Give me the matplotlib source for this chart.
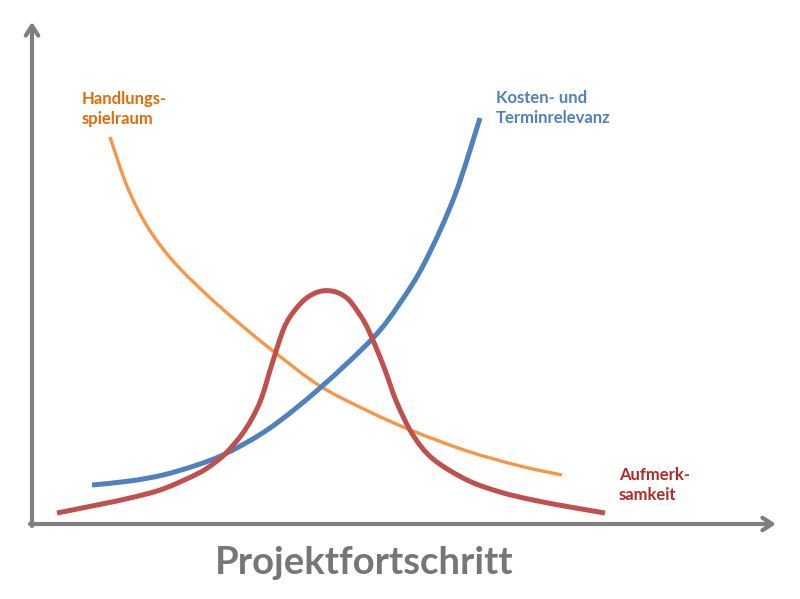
import matplotlib
matplotlib.use('Agg')
import matplotlib.pyplot as plt
from matplotlib.path import Path
from matplotlib.patches import PathPatch
import numpy as np

# Curve points (pixel-like units, y grows downward)
spielraum_x = [110, 127, 147, 173, 207, 240, 273, 320, 370, 413, 467, 520, 562]
spielraum_y = [137, 186, 226, 261, 295, 324, 351, 386, 412, 431, 451, 466, 475]

kosten_x = [92, 130, 163, 197, 227, 270, 320, 373, 400, 425, 455, 480]
kosten_y = [485, 481, 475, 465, 453, 428, 388, 338, 303, 262, 195, 118]

aufmerk_x = [57, 97, 130, 163, 197, 213, 227, 245, 260, 272, 284, 295, 308, 322, 336, 348, 358, 366, 375, 385, 397, 413, 433, 467, 500, 533, 570, 605]
aufmerk_y = [513, 505, 498, 489, 474, 464, 452, 430, 402, 364, 328, 310, 297, 291, 292, 299, 312, 325, 345, 370, 403, 435, 459, 480, 492, 500, 507, 513]

labels = [['Handlungs-', 'spielraum'], ['Kosten- und', 'Terminrelevanz'], ['Aufmerk-', 'samkeit']]
x_title = 'Projektfortschritt'

plt.rcParams['font.family'] = ['Lato', 'DejaVu Sans']


def smooth_path(xs, ys):
    # Catmull-Rom through the read points, drawn as cubic Bezier segments
    p = np.column_stack([xs, ys]).astype(float)
    verts = [p[0]]
    codes = [Path.MOVETO]
    for i in range(len(p) - 1):
        p0 = p[max(i - 1, 0)]
        p1 = p[i]
        p2 = p[i + 1]
        p3 = p[min(i + 2, len(p) - 1)]
        verts += [p1 + (p2 - p0) / 6, p2 - (p3 - p1) / 6, p2]
        codes += [Path.CURVE4] * 3
    return Path(verts, codes)


fig = plt.figure(figsize=(8, 5.99), dpi=100)
ax = fig.add_axes([0, 0, 1, 1])
ax.set_xlim(0, 800)
ax.set_ylim(599, 0)
ax.axis('off')

grey = '#7f7f7f'

# Axes as arrows
ax.annotate('', xy=(776, 524), xytext=(30, 524),
            arrowprops=dict(arrowstyle='->,head_length=0.7,head_width=0.45',
                            lw=3, color=grey, shrinkA=0, shrinkB=0))
ax.annotate('', xy=(32, 22), xytext=(32, 526),
            arrowprops=dict(arrowstyle='->,head_length=0.7,head_width=0.45',
                            lw=3, color=grey, shrinkA=0, shrinkB=0))

# Curves
ax.add_patch(PathPatch(smooth_path(spielraum_x, spielraum_y), fill=False,
                       edgecolor='#f79646', lw=2.4, capstyle='butt', zorder=2))
ax.add_patch(PathPatch(smooth_path(kosten_x, kosten_y), fill=False,
                       edgecolor='#4f81bd', lw=3.6, capstyle='butt', zorder=3))
ax.add_patch(PathPatch(smooth_path(aufmerk_x, aufmerk_y), fill=False,
                       edgecolor='#c0504d', lw=3.6, capstyle='butt', zorder=4))

# Labels, one line at a time
for (l1, l2), x, y, c in zip(labels, [82, 496, 619], [104, 103, 480],
                             ['#e36c09', '#4f81bd', '#b22a27']):
    ax.text(x, y, l1, color=c, fontsize=12, fontweight='bold', ha='left', va='baseline')
    ax.text(x, y + 20, l2, color=c, fontsize=12, fontweight='bold', ha='left', va='baseline')

# Title under the x axis
ax.text(364, 574, x_title, color='#767676', fontsize=27.5, fontweight='bold',
        ha='center', va='baseline')

plt.savefig('out.png', dpi=100)
